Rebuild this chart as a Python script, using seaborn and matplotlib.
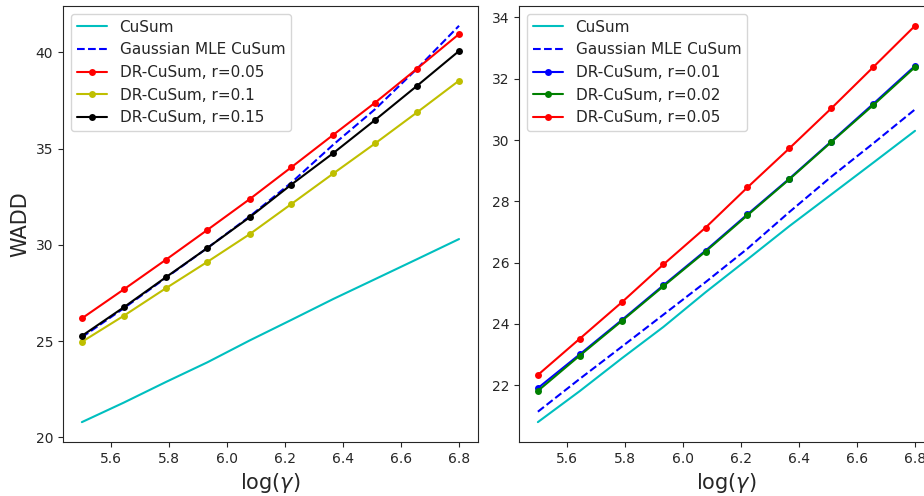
import matplotlib
matplotlib.use("Agg")
import matplotlib.pyplot as plt
import pandas as pd
import seaborn as sns

# x grid: log(gamma)
log_gamma = [5.5, 5.644, 5.789, 5.933, 6.078, 6.222, 6.367, 6.511, 6.656, 6.8]

# CuSum (same on both panels)
cusum = [20.79, 21.80, 22.87, 23.90, 25.03, 26.10, 27.19, 28.22, 29.26, 30.30]

# left panel
gauss_left = [25.20, 26.70, 28.28, 29.84, 31.47, 33.23, 35.21, 37.05, 39.16, 41.38]
dr_left_005 = [26.18, 27.68, 29.22, 30.78, 32.37, 34.03, 35.72, 37.39, 39.16, 40.95]
dr_left_010 = [24.96, 26.31, 27.74, 29.12, 30.55, 32.12, 33.71, 35.27, 36.89, 38.53]
dr_left_015 = [25.27, 26.75, 28.31, 29.84, 31.43, 33.13, 34.77, 36.49, 38.27, 40.07]

# right panel
gauss_right = [21.13, 22.20, 23.25, 24.30, 25.36, 26.45, 27.65, 28.80, 29.89, 31.00]
dr_right_001 = [21.90, 23.00, 24.12, 25.26, 26.39, 27.57, 28.74, 29.95, 31.18, 32.42]
dr_right_002 = [21.81, 22.96, 24.09, 25.23, 26.36, 27.54, 28.72, 29.93, 31.14, 32.38]
dr_right_005 = [22.33, 23.51, 24.70, 25.94, 27.14, 28.45, 29.73, 31.03, 32.38, 33.73]


def draw_panel(ax, series):
    """
    draws one panel: list of (label, values, color, dashed, markers)
    """
    for label, vals, color, dashed, mark in series:
        df = pd.DataFrame({'x': log_gamma, 'y': vals})
        kw = dict(color=color, linewidth=1.5, label=label)
        if dashed:
            kw['linestyle'] = '--'
        if mark:
            kw.update(marker='o', markersize=5, markeredgecolor=color,
                      markeredgewidth=0)
        sns.lineplot(data=df, x='x', y='y', ax=ax, **kw)
    ax.set_xlabel(r'log($\gamma$)', fontsize=15)
    ax.set_ylabel('')
    ax.legend(loc='upper left', fontsize=11)


sns.set_style("ticks")
fig = plt.figure(figsize=(9.24, 4.96), dpi=100)
ax1 = fig.add_axes([0.0682, 0.109, 0.449, 0.879])
ax2 = fig.add_axes([0.5617, 0.109, 0.449, 0.879])

draw_panel(ax1, [
    ('CuSum', cusum, 'c', False, False),
    ('Gaussian MLE CuSum', gauss_left, 'b', True, False),
    ('DR-CuSum, r=0.05', dr_left_005, 'r', False, True),
    ('DR-CuSum, r=0.1', dr_left_010, 'y', False, True),
    ('DR-CuSum, r=0.15', dr_left_015, 'k', False, True),
])
ax1.set_ylabel('WADD', fontsize=15)

draw_panel(ax2, [
    ('CuSum', cusum, 'c', False, False),
    ('Gaussian MLE CuSum', gauss_right, 'b', True, False),
    ('DR-CuSum, r=0.01', dr_right_001, 'b', False, True),
    ('DR-CuSum, r=0.02', dr_right_002, 'g', False, True),
    ('DR-CuSum, r=0.05', dr_right_005, 'r', False, True),
])

plt.savefig('out.png', dpi=100)
